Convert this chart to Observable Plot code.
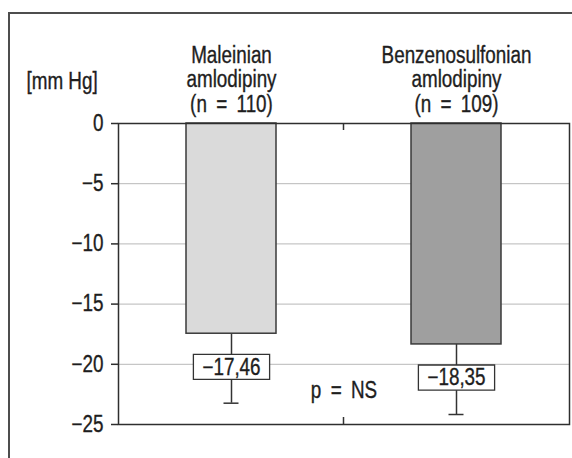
<!DOCTYPE html>
<html>
<head>
<meta charset="utf-8">
<script src="https://cdn.jsdelivr.net/npm/d3@7"></script>
<script src="https://cdn.jsdelivr.net/npm/@observablehq/plot@0.6"></script>
<style>
  html, body { margin: 0; padding: 0; background: #fff; }
  #wrap { position: relative; width: 572px; height: 458px; overflow: hidden; background: #fff; }
  #border { position: absolute; left: 8px; top: 12px; width: 620px; height: 520px; border: 2px solid #4d4d4d; box-sizing: border-box; }
  #chart { position: absolute; left: 0; top: 0; }
  #chart svg text { stroke: #1e1e1e; stroke-width: 0.35px; }
</style>
</head>
<body>
<div id="wrap"><div id="border"></div><div id="chart"></div></div>
<script>
// ---- data ----
const groups = ["Maleinian\namlodipiny\n(n = 110)", "Benzenosulfonian\namlodipiny\n(n = 109)"];
const meanChange = [-17.46, -18.35];
const lowerError = [-23.23, -24.17];
const barFills = ["#dadada", "#9f9f9f"];
const yTicks = [0, -5, -10, -15, -20, -25];
const gridTicks = [-5, -10, -15, -20];
const unitLabel = "[mm Hg]";
const pLabel = "p = NS";

const rows = groups.map((g, i) => ({group: g, mean: meanChange[i], low: lowerError[i], fill: barFills[i]}));

const plLocale = d3.formatLocale({decimal: ",", thousands: " ", grouping: [3], currency: ["", ""], minus: "\u2212"});
const fmt2 = plLocale.format(".2f");
const fmt0 = plLocale.format("d");

const FONT = "'Liberation Sans', Arial, sans-serif";
const NARROW = 0.82; // condensed look
const INK = "#1e1e1e";

const chart = Plot.plot({
  width: 572,
  height: 458,
  marginLeft: 118,
  marginRight: 3,
  marginTop: 123,
  marginBottom: 34,
  style: {fontFamily: FONT, fontSize: "23px", color: INK, background: "transparent", overflow: "visible"},
  x: {domain: groups, paddingInner: 0.6, paddingOuter: 0.3},
  y: {domain: [-25, 0]},
  marks: [
    Plot.gridY(gridTicks, {stroke: "#b8b8b8", strokeOpacity: 1, strokeWidth: 1}),
    // error bars (below the bars)
    Plot.ruleX(rows, {x: "group", y1: "mean", y2: "low", stroke: "#333", strokeWidth: 1.5}),
    Plot.tickY(rows, {x: "group", y: "low", stroke: "#333", strokeWidth: 1.5, insetLeft: 37.5, insetRight: 37.5}),
    Plot.barY(rows, {x: "group", y: "mean", fill: "fill", stroke: "#3a3a3a", strokeWidth: 1.5}),
    // separator ticks between the groups
    Plot.ruleY([0, -25], {
      render(index, scales, values, dimensions) {
        const {width, marginLeft, marginRight} = dimensions;
        const bx = (marginLeft + width - marginRight) / 2;
        const g = d3.create("svg:g").attr("stroke", "#333").attr("stroke-width", 1.5);
        const top = scales.y(0), bot = scales.y(-25);
        g.append("line").attr("x1", bx).attr("x2", bx).attr("y1", top).attr("y2", top + 7);
        g.append("line").attr("x1", bx).attr("x2", bx).attr("y1", bot).attr("y2", bot - 7);
        return g.node();
      }
    }),
    Plot.frame({stroke: "#2e2e2e", strokeWidth: 1.5}),
    Plot.axisY(yTicks, {tickSize: 7, tickPadding: 8, tickFormat: fmt0, label: null, stroke: "#2e2e2e", strokeWidth: 1.5, fill: INK}),
    Plot.axisX({anchor: "top", tickSize: 0, tickPadding: 12, label: null, lineHeight: 1.05, fill: INK}),
    Plot.text([unitLabel], {frameAnchor: "top-left", textAnchor: "start", lineAnchor: "bottom", dx: -92, dy: -35, fill: INK}),
    Plot.text([pLabel], {frameAnchor: "bottom", dy: -27, fill: INK}),
    Plot.text(rows, {x: "group", y: "mean", text: d => fmt2(d.mean), dy: 33.5, fill: INK, className: "boxed"})
  ]
});

document.getElementById("chart").appendChild(chart);

// condense every text horizontally around its anchor point; widen spacing around "="
chart.querySelectorAll("text").forEach(t => {
  const X = parseFloat(t.getAttribute("x")) || 0;
  const tr = t.getAttribute("transform") || "";
  t.setAttribute("transform", `${tr} translate(${X},0) scale(${NARROW},1) translate(${-X},0)`.trim());
  if (t.textContent.includes("=")) t.style.wordSpacing = "5px";
});

// white boxes behind the value labels
chart.querySelectorAll(".boxed text").forEach(t => {
  const b = t.getBBox();
  const r = document.createElementNS("http://www.w3.org/2000/svg", "rect");
  const padX = 11;
  r.setAttribute("x", b.x - padX);
  r.setAttribute("y", b.y + 0.5);
  r.setAttribute("width", b.width + 2 * padX);
  r.setAttribute("height", b.height);
  r.setAttribute("fill", "#fff");
  r.setAttribute("stroke", "#333");
  r.setAttribute("stroke-width", 1.3);
  r.setAttribute("vector-effect", "non-scaling-stroke");
  const tr = t.getAttribute("transform");
  if (tr) r.setAttribute("transform", tr);
  t.parentNode.insertBefore(r, t);
});
</script>
</body>
</html>
